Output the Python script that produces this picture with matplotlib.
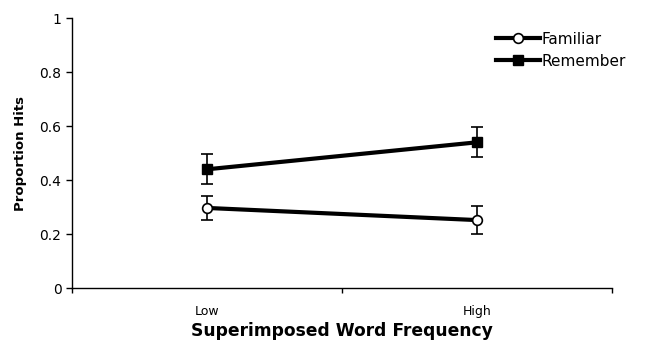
import matplotlib
matplotlib.use("Agg")
import matplotlib.pyplot as plt

categories = ["Low", "High"]
familiar = [0.297, 0.252]
familiar_err = [0.043, 0.052]
remember = [0.440, 0.540]
remember_err = [0.055, 0.056]
yticks = [0, 0.2, 0.4, 0.6, 0.8, 1]
ytick_labels = ["0", "0.2", "0.4", "0.6", "0.8", "1"]

plt.rcParams['font.family'] = ['DejaVu Sans']
fig = plt.figure(figsize=(6.47, 3.41), dpi=100)
ax = fig.add_axes([0.111, 0.155, 0.835, 0.792])

x = [1, 2]
ax.errorbar(x, familiar, yerr=familiar_err, color='black', lw=3, marker='o',
            ms=7, mfc='white', mec='black', mew=1.2, ecolor='black', elinewidth=1.2,
            capsize=4, capthick=1.2, label='Familiar', zorder=3)
ax.errorbar(x, remember, yerr=remember_err, color='black', lw=3, marker='s',
            ms=7, mfc='black', mec='black', ecolor='black', elinewidth=1.2,
            capsize=4, capthick=1.2, label='Remember', zorder=3)

ax.set_xlim(0.5, 2.5)
ax.set_ylim(0, 1)
ax.set_yticks(yticks)
ax.set_yticklabels(ytick_labels, fontsize=10)
ax.set_xticks([0.5, 1.5, 2.5])
ax.set_xticklabels([])
ax.set_xticks(x, minor=True)
ax.set_xticklabels(categories, minor=True, fontsize=9)
ax.tick_params(axis='x', which='minor', length=0, pad=12)
ax.tick_params(axis='x', which='major', direction='out', length=3.5, width=1)
ax.tick_params(axis='y', direction='out', length=4, width=1)
for s in ['top', 'right']:
    ax.spines[s].set_visible(False)
for s in ['left', 'bottom']:
    ax.spines[s].set_linewidth(1)

ax.set_xlabel("Superimposed Word Frequency", fontsize=12.3, fontweight='bold', labelpad=3)
ax.set_ylabel("Proportion Hits", fontsize=9.5, fontweight='bold', labelpad=9)

handles, labels = ax.get_legend_handles_labels()
handles = [h[0] for h in handles]
leg = ax.legend(handles, labels, loc='upper left', bbox_to_anchor=(0.76, 1.0), frameon=False,
                fontsize=11, handlelength=2.9, handletextpad=0.1, labelspacing=0.45)

fig.savefig("out.png", dpi=100)
